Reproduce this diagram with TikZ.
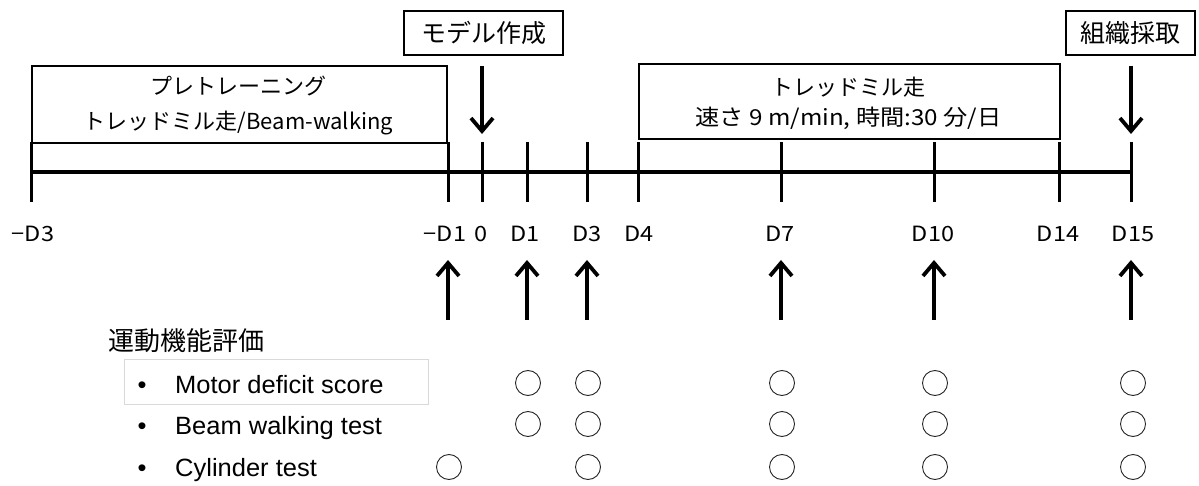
\documentclass[tikz,border=0pt]{standalone}
\usepackage{fontspec}
\setmainfont{Noto Sans CJK JP}
\newfontfamily\lsans[FakeStretch=1.02]{Liberation Sans}
\newfontfamily\jpw[FakeStretch=1.1]{Noto Sans CJK JP}
\newfontfamily\labelfont[FakeStretch=1.12]{Noto Sans CJK JP}
\usetikzlibrary{arrows.meta}
\begin{document}
\begin{tikzpicture}[x=1pt,y=-1pt,
  frame/.style={draw, line width=2.4pt, inner sep=0pt, align=center},
  tickline/.style={line width=3pt},
  bigarrow/.style={line width=3.8pt, -{Straight Barb[length=13pt,width=22pt,line width=3.8pt]}},
  daylbl/.style={font=\labelfont\fontsize{21}{24}\selectfont, anchor=center, inner sep=0pt},
  circ/.style={circle, draw=black!85, line width=0.9pt, minimum size=25pt, inner sep=0pt},
  itemtxt/.style={font=\lsans\fontsize{25}{30}\selectfont, anchor=base west, inner sep=0pt},
  bul/.style={font=\lsans\fontsize{25}{30}\selectfont, anchor=base, inner sep=0pt}
]
\useasboundingbox (0,0) rectangle (1199,486);
\fill[white] (0,0) rectangle (1199,486);

% boxes
\node[frame, minimum width=415pt, minimum height=77pt, anchor=north west] (pre) at (31,65) {};
\node[font=\fontsize{22}{35}\selectfont, align=center, inner sep=0pt] (pretxt) at (238.5,105.5)
  {プレトレーニング\\トレッドミル走/Beam-walking};
\node[frame, minimum width=421pt, minimum height=75pt, anchor=north west] (tm) at (638,63) {};
\node[font=\fontsize{22}{30}\selectfont, align=center, inner sep=0pt] (tmtxt) at (848.5,103)
  {トレッドミル走\\{\jpw 速さ 9 m/min, 時間:30 分/日}};
\node[frame, minimum width=159pt, minimum height=44pt, anchor=north west,
  font=\fontsize{25}{30}\selectfont] (model) at (403,10) {モデル作成};
\node[frame, minimum width=129pt, minimum height=44pt, anchor=north west,
  font=\fontsize{25}{30}\selectfont] (tissue) at (1065,10) {組織採取};

% tick coordinates
\foreach \n/\x in {m3/31, m1/448, z/482, d1/527, d3/587, d4/638, d7/781, d10/934, d14/1059, d15/1131}{
  \coordinate (top\n) at (\x,142);
  \coordinate (bot\n) at (\x,202);
  \coordinate (mid\n) at (\x,172);
}
\draw[line width=4pt] (midm3) -- (midd15);
\foreach \n in {m3, m1, z, d1, d3, d4, d7, d10, d14, d15}{
  \draw[tickline] (top\n) -- (bot\n);
}

% down arrows
\coordinate (dnA) at (482,66);
\coordinate (dnAe) at (482,134);
\coordinate (dnB) at (1131,66);
\coordinate (dnBe) at (1131,134);
\draw[bigarrow] (dnA) -- (dnAe);
\draw[bigarrow] (dnB) -- (dnBe);

% day labels
\node[daylbl] (lm3) at (33,234) {−D3};
\node[daylbl] (lm1) at (445,234) {−D1};
\node[daylbl] (lz) at (481,234) {0};
\node[daylbl] (ld1) at (525,234) {D1};
\node[daylbl] (ld3) at (587,234) {D3};
\node[daylbl] (ld4) at (639,234) {D4};
\node[daylbl] (ld7) at (780,234) {D7};
\node[daylbl] (ld10) at (933,234) {D10};
\node[daylbl] (ld14) at (1058,234) {D14};
\node[daylbl] (ld15) at (1133,234) {D15};

% up arrows
\foreach \n/\x in {m1/448, d1/527, d3/587, d7/781, d10/934, d15/1131}{
  \coordinate (ua\n) at (\x,320);
  \coordinate (ub\n) at (\x,260);
  \draw[bigarrow] (ua\n) -- (ub\n);
}

% assessment list
\node[font=\fontsize{26}{30}\selectfont, anchor=west, inner sep=0pt] (title) at (108,341) {運動機能評価};
\node[draw=gray!30, line width=0.7pt, minimum width=304pt, minimum height=45pt, anchor=north west, inner sep=0pt] (hl) at (124,359) {};
\node[bul] (b1) at (142,393) {•};
\node[bul] (b2) at (142,434) {•};
\node[bul] (b3) at (142,476) {•};
\node[itemtxt] (t1) at (175,393) {Motor deficit score};
\node[itemtxt] (t2) at (175,434) {Beam walking test};
\node[itemtxt] (t3) at (175,476) {Cylinder test};

% circles
\foreach \x [count=\i] in {528, 588, 782, 935, 1133}{
  \node[circ] (ca\i) at (\x,383) {};
  \node[circ] (cb\i) at (\x,424) {};
}
\foreach \x [count=\i] in {449, 588, 782, 935, 1133}{
  \node[circ] (cc\i) at (\x,467) {};
}
\end{tikzpicture}
\end{document}
